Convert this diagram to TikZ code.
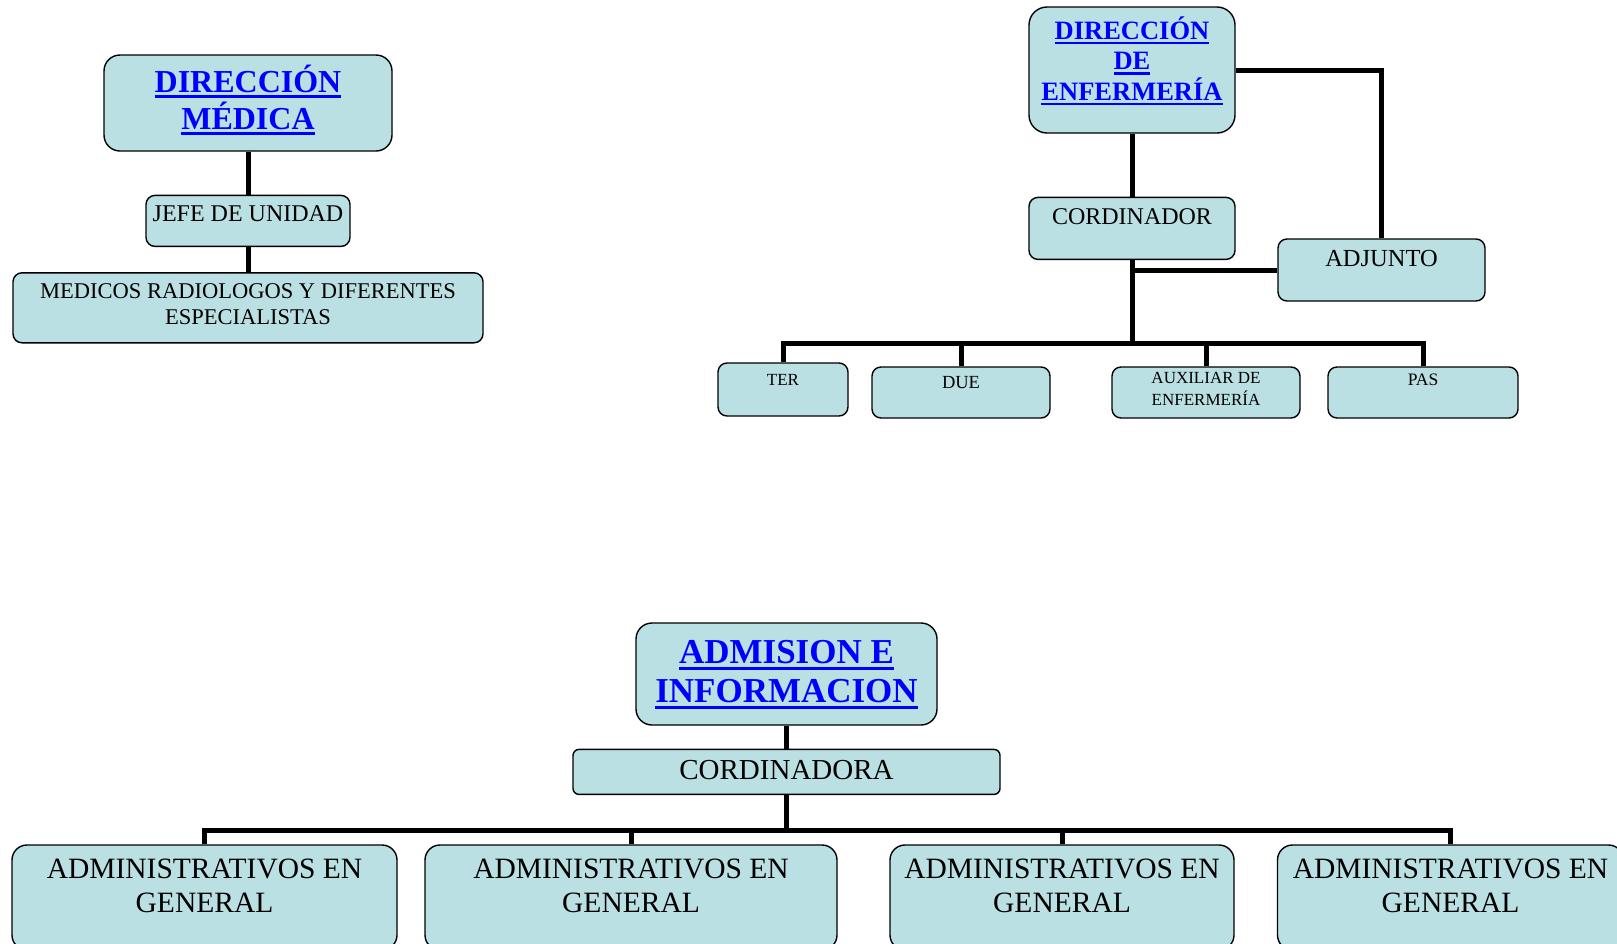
\documentclass[tikz,border=0pt]{standalone}
\usepackage{fontspec}
\setmainfont{Liberation Serif}
\usepackage{tikz}
\usetikzlibrary{positioning}

\definecolor{boxfill}{RGB}{187,224,227}
\definecolor{linkblue}{RGB}{0,0,255}
\newsavebox{\headbox}
\newcommand{\ulhead}[1]{\sbox{\headbox}{#1}\rlap{\rule[-0.19em]{\wd\headbox}{0.085em}}\usebox{\headbox}}

\begin{document}
\begin{tikzpicture}[
  x=1pt, y=-1pt,
  unit/.style={rectangle, draw=black, fill=boxfill, line width=1.4pt, rounded corners=9pt, align=center, inner xsep=0pt, inner ysep=0pt},
  head/.style={unit, text=linkblue, rounded corners=16pt},
  tall/.style 2 args={text height=#1pt, text depth=#2pt},
  link/.style={line width=5pt}
]
\useasboundingbox (0,0) rectangle (1617,943);

% direccion medica
\node[head, minimum width=288pt, tall={74}{22}, font=\bfseries\fontsize{32}{37}\selectfont] (dmed) at (248,103) {\ulhead{DIRECCIÓN}\\\ulhead{MÉDICA}};
\node[unit, minimum width=204pt, tall={26}{25}, font=\fontsize{24}{28}\selectfont, below=43pt of dmed] (jefe) {JEFE DE UNIDAD};
\node[unit, minimum width=470pt, tall={52}{18}, font=\fontsize{22.5}{26}\selectfont, below=25pt of jefe] (medicos) {MEDICOS RADIOLOGOS Y DIFERENTES\\ESPECIALISTAS};

\draw[link] (dmed) -- (jefe);
\draw[link] (jefe) -- (medicos);

% direccion de enfermeria
\node[head, minimum width=206pt, tall={93}{33}, font=\bfseries\fontsize{26.5}{30.5}\selectfont, rounded corners=18pt] (denf) at (1132,70) {\ulhead{DIRECCIÓN}\\\ulhead{DE}\\\ulhead{ENFERMERÍA}};
\node[unit, minimum width=206pt, tall={27}{35}, font=\fontsize{24}{28}\selectfont, below=63pt of denf] (cord) {CORDINADOR};
\node[unit, minimum width=207pt, tall={27}{35}, font=\fontsize{24.5}{28}\selectfont] (adj) at (1381.5,270) {ADJUNTO};
\coordinate[below=83pt of cord.south] (enfhub);

\node[unit, minimum width=130pt, tall={22}{31}, font=\fontsize{17}{20}\selectfont] (ter) at (783,389.5) {TER};
\node[unit, minimum width=178pt, tall={21}{30}, font=\fontsize{18.5}{22}\selectfont] (due) at (961,392.5) {DUE};
\node[unit, minimum width=188pt, tall={38}{13}, font=\fontsize{17}{22}\selectfont] (aux) at (1206,392.5) {AUXILIAR DE\\ENFERMERÍA};
\node[unit, minimum width=190pt, tall={18}{33}, font=\fontsize{17.5}{20}\selectfont] (pas) at (1423,392.5) {PAS};

\draw[link] (denf.east) -| (adj.north);
\draw[link] (denf) -- (cord);
\draw[link] (cord.south) -- (enfhub);
\draw[link] (cord.south |- adj.west) -- (adj.west);
\draw[link] (ter.north) |- (enfhub) -| (pas.north);
\draw[link] (due.north) -- (due.north |- enfhub);
\draw[link] (aux.north) -- (aux.north |- enfhub);

% admision e informacion
\node[head, minimum width=301pt, tall={79}{23}, font=\bfseries\fontsize{35}{39}\selectfont] (adm) at (786.5,674) {\ulhead{ADMISION E}\\\ulhead{INFORMACION}};
\node[unit, minimum width=427pt, tall={30}{15}, font=\fontsize{29}{32}\selectfont, rounded corners=6pt, below=23pt of adm] (cora) {CORDINADORA};
\coordinate[below=35pt of cora.south] (adhub);

\node[unit, minimum width=385pt, tall={67}{38}, font=\fontsize{29.5}{34}\selectfont, rounded corners=15pt] (admA) at (204.5,897.5) {ADMINISTRATIVOS EN\\GENERAL};
\node[unit, minimum width=412pt, tall={67}{38}, font=\fontsize{29.5}{34}\selectfont, rounded corners=15pt] (admB) at (631,897.5) {ADMINISTRATIVOS EN\\GENERAL};
\node[unit, minimum width=344pt, tall={67}{38}, font=\fontsize{29.5}{34}\selectfont, rounded corners=15pt] (admC) at (1062,897.5) {ADMINISTRATIVOS EN\\GENERAL};
\node[unit, minimum width=346pt, tall={67}{38}, font=\fontsize{29.5}{34}\selectfont, rounded corners=15pt] (admD) at (1450.5,897.5) {ADMINISTRATIVOS EN\\GENERAL};

\draw[link] (adm) -- (cora);
\draw[link] (cora.south) -- (adhub);
\draw[link] (admA.north) |- (adhub) -| (admD.north);
\draw[link] (admB.north) -- (admB.north |- adhub);
\draw[link] (admC.north) -- (admC.north |- adhub);

\end{tikzpicture}
\end{document}
